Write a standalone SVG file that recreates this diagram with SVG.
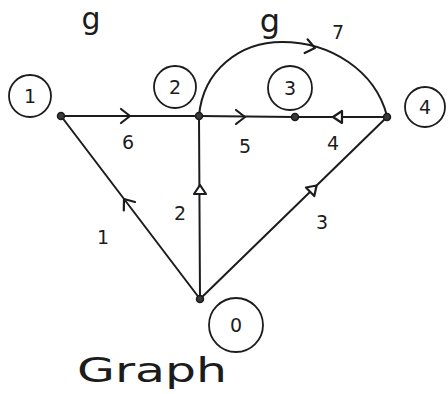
<svg xmlns="http://www.w3.org/2000/svg" width="448" height="394" viewBox="0 0 448 394">
  <style>
    .edge { fill: none; stroke: #1c1c1c; stroke-width: 2; stroke-linecap: round; }
    .arr { fill: none; stroke: #1c1c1c; stroke-width: 2.2; stroke-linejoin: round; stroke-linecap: round; }
    .tri { fill: #fff; stroke: #1c1c1c; stroke-width: 2.2; stroke-linejoin: round; }
    .dot { fill: #3a3a3a; stroke: #1c1c1c; stroke-width: 1.5; }
    .ring { fill: none; stroke: #1c1c1c; stroke-width: 1.8; }
    .lbl { font-family: "DejaVu Sans", "Liberation Sans", sans-serif; font-size: 19px; fill: #1c1c1c; text-anchor: middle; dominant-baseline: central; }
    .title { font-family: "DejaVu Sans", sans-serif; fill: #1c1c1c; }
  </style>
  <defs>
    <path id="chev" d="M-4,-7 L5,0 L-4,7"/>
    <path id="trip" d="M-4,-6 L5,0 L-4,6 Z"/>
  </defs>
  <rect width="448" height="394" fill="#fff"/>

  <!-- title fragments at the top edge -->
  <text class="title" x="91" y="29" font-size="30" text-anchor="middle">g</text>
  <text class="title" x="270" y="32" font-size="32" text-anchor="middle">g</text>

  <g id="connectors">
    <path class="edge" d="M200,299 L61,116"/>
    <path class="edge" d="M200,299 L199,116"/>
    <path class="edge" d="M200,299 L387,117"/>
    <path class="edge" d="M61,116 L199,116"/>
    <path class="edge" d="M199,116 L295,117"/>
    <path class="edge" d="M387,117 L295,117"/>
    <path class="edge" d="M199,116 C203,70 240,42 282,42 C330,42 375,70 387,116"/>
    <use href="#chev" class="arr" transform="translate(127,203) rotate(-127)"/>
    <use href="#trip" class="tri" transform="translate(200,190) rotate(-90)"/>
    <use href="#trip" class="tri" transform="translate(313,189) rotate(-44)"/>
    <use href="#chev" class="arr" transform="translate(125,116)"/>
    <use href="#chev" class="arr" transform="translate(240,117)"/>
    <use href="#trip" class="tri" transform="translate(338,117) rotate(180)"/>
    <use href="#chev" class="arr" transform="translate(310,47) rotate(12)"/>
    <text class="lbl" x="103" y="237">1</text>
    <text class="lbl" x="180" y="213">2</text>
    <text class="lbl" x="322" y="222">3</text>
    <text class="lbl" x="128" y="142">6</text>
    <text class="lbl" x="245" y="146">5</text>
    <text class="lbl" x="333" y="143">4</text>
    <text class="lbl" x="338" y="32">7</text>
  </g>

  <g id="node-1">
    <circle class="dot" cx="61" cy="116" r="3.5"/>
    <circle class="ring" cx="30" cy="96" r="21"/>
    <text class="lbl" x="30" y="96">1</text>
  </g>
  <g id="node-2">
    <circle class="dot" cx="199" cy="116" r="3.5"/>
    <circle class="ring" cx="175" cy="87" r="21"/>
    <text class="lbl" x="175" y="87">2</text>
  </g>
  <g id="node-3">
    <circle class="dot" cx="295" cy="117" r="3.5"/>
    <circle class="ring" cx="290" cy="88" r="22"/>
    <text class="lbl" x="290" y="88">3</text>
  </g>
  <g id="node-4">
    <circle class="dot" cx="387" cy="117" r="3.5"/>
    <circle class="ring" cx="425" cy="107" r="20"/>
    <text class="lbl" x="425" y="107">4</text>
  </g>
  <g id="node-0">
    <circle class="dot" cx="200" cy="299" r="3.5"/>
    <circle class="ring" cx="236" cy="325" r="27"/>
    <text class="lbl" x="236" y="325">0</text>
  </g>

  <text class="title" x="77" y="382" font-size="34" textLength="150" lengthAdjust="spacingAndGlyphs">Graph</text>
</svg>
